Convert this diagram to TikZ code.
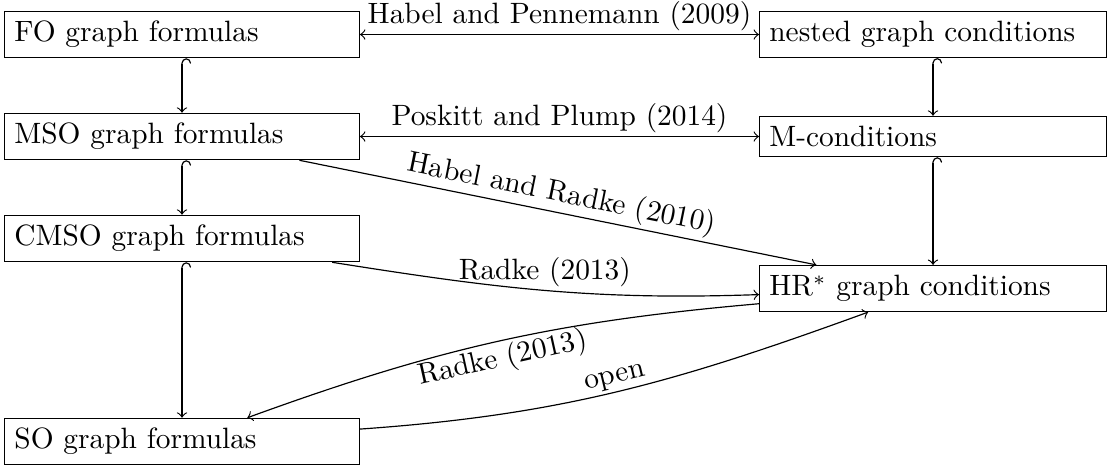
\documentclass[tikz,border=0pt]{standalone}
\usepackage{amsmath}
\usepackage{tikz}
\usetikzlibrary{arrows}

\begin{document}
\begin{tikzpicture}[x=0.3401pt,y=-0.3401pt,
    box/.style={draw,align=left},
    formula/.style={box,text width=114pt},
    condition/.style={box,text width=111.3pt},
    ref/.style={inner sep=1pt}]
          \useasboundingbox (0,0) rectangle (1107,466);
          \node[formula] (FO) at (182,34.5) {FO graph formulas};
          \node[formula] (MSO) at (182,136.5) {MSO graph formulas};
          \node[formula] (CMSO) at (182,238.5) {CMSO graph formulas};
          \node[formula] (SO) at (182,441.5) {SO graph formulas};
          \node[condition] (NGC) at (933,34.5) {nested graph conditions};
          \node[condition] (MC) at (933,136.5) {M-conditions};
          \node[condition] (HR) at (933,288.5) {HR$^*$ graph conditions};
          \draw[<->] (FO) -- node[ref,above]{Habel and Pennemann (2009)} (NGC);
          \draw[<->] (MSO) -- node[ref,above]{Poskitt and Plump (2014)} (MC);
          \draw[right hook->] (FO) -- (MSO);
          \draw[right hook->] (MSO) -- (CMSO);
          \draw[right hook->] (CMSO) -- (SO);
          \draw[right hook->] (NGC) -- (MC);
          \draw[right hook->] (MC) -- (HR);
          \draw[->] (MSO) -- node[ref,above,sloped]{Habel and Radke (2010)} (HR);
          \draw[->] (CMSO) to[out=-9,in=182] node[ref,above]{Radke (2013)} (HR);
          \draw[->] (HR) to[out=185,in=20] node[ref,below,sloped]{Radke (2013)} (SO);
          \draw[->] (SO) to[out=4,in=200] node[ref,above,sloped]{open} (HR);
        \end{tikzpicture}
\end{document}
